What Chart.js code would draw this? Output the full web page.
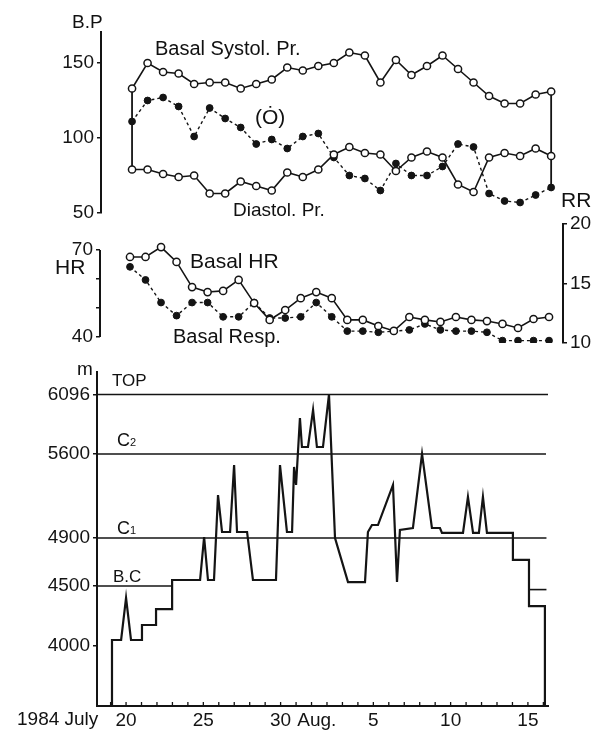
<!DOCTYPE html>
<html><head><meta charset="utf-8">
<script src="https://cdn.jsdelivr.net/npm/chart.js@4.4.1/dist/chart.umd.min.js"></script>
<style>
html,body{margin:0;padding:0;background:#fff;}
#wrap{position:relative;width:595px;height:732px;overflow:hidden;background:#fff;font-family:"Liberation Sans",Arial,sans-serif;color:#111;}
canvas{position:absolute;left:0;}
.t{position:absolute;white-space:nowrap;line-height:1;}
.s{font-size:11px;}
</style></head><body>
<div id="wrap">
<canvas id="c1" width="595" height="235" style="top:0px"></canvas>
<canvas id="c2" width="595" height="170" style="top:195px"></canvas>
<canvas id="c3" width="595" height="377" style="top:355px"></canvas>
<div class="t" style="left:72px;top:12px;font-size:19px">B.P</div>
<div class="t" style="left:155px;top:38px;font-size:20px">Basal Systol. Pr.</div>
<div class="t" style="left:255px;top:106px;font-size:21px">(Ȯ)</div>
<div class="t" style="left:233px;top:200px;font-size:19px">Diastol. Pr.</div>
<div class="t" style="left:55px;top:256px;font-size:21px">HR</div>
<div class="t" style="left:190px;top:250px;font-size:21px">Basal HR</div>
<div class="t" style="left:173px;top:326px;font-size:20px">Basal Resp.</div>
<div class="t" style="left:561px;top:189px;font-size:21px">RR</div>
<div class="t" style="left:77px;top:359px;font-size:19px">m</div>
<div class="t" style="left:112px;top:372px;font-size:17px">TOP</div>
<div class="t" style="left:117px;top:431px;font-size:18px">C<span class="s">2</span></div>
<div class="t" style="left:117px;top:519px;font-size:18px">C<span class="s">1</span></div>
<div class="t" style="left:113px;top:568px;font-size:17px">B.C</div>
<div class="t" style="left:17px;top:709px;font-size:19px">1984 July</div>
</div>
<script>
// ---- data (day numbers counted from July 1; Aug 1 = 32) ----
const days = [20,21,22,23,24,25,26,27,28,29,30,31,32,33,34,35,36,37,38,39,40,41,42,43,44,45,46,47];
const systolic = [133,150,144,143,136,137,137,133,136,139,147,145,148,150,157,155,137,152,142,148,155,146,137,128,123,123,129,131];
const diastolic = [79,79,76,74,75,63,63,71,68,65,77,74,79,89,94,90,89,78,87,91,87,69,64,87,90,88,93,88];
const meanBP = [111,125,127,121,101,120,113,107,96,99,93,101,103,87,75,73,65,83,75,75,81,96,94,63,58,57,62,67];
const heartRate = [67.6,67.6,71,65.9,57.2,55.5,55.9,59.7,51.7,45.9,49.3,53.4,55.5,53.4,45.9,45.9,43.8,42.1,46.9,45.9,45.2,46.9,45.9,45.5,44.5,43.1,46.2,46.9];
const respRate = [16.4,15.3,13.4,12.3,13.4,13.4,12.2,12.2,13.4,12.1,12.1,12.2,13.4,12.2,11.0,11.0,10.9,11.0,11.1,11.6,11.1,11.0,11.0,10.9,10.2,10.2,10.2,10.2];

const altDays = [19.09,19.09,19.68,20.00,20.32,21.03,21.03,21.94,21.94,22.98,22.98,24.79,25.05,25.30,25.69,25.95,26.21,26.73,26.99,27.18,27.83,28.21,29.70,29.96,30.41,30.74,30.87,31.00,31.25,31.38,31.77,32.10,32.35,32.74,33.13,33.52,34.36,35.46,35.65,35.91,36.30,37.27,37.40,37.53,37.72,38.56,39.15,39.79,40.31,40.44,41.80,42.12,42.45,42.83,43.09,43.35,45.03,45.03,46.07,46.07,47.10,47.10];
const altitude = [3500,4050,4050,4400,4050,4050,4175,4175,4308,4308,4550,4550,4908,4550,4550,5258,4950,4950,5508,4950,4950,4550,4550,5508,4950,4950,5492,5342,5900,5658,5658,5967,5658,5658,6096,4900,4533,4533,4950,5008,5008,5342,4942,4533,4967,4983,5600,4983,4983,4942,4942,5242,4942,4942,5242,4942,4942,4717,4717,4333,4333,3500];

const refNames = ['TOP','C2','C1','B.C'];
const refAlt = [6096,5600,4900,4500];
const refEndDay = [47.30,47.17,47.20,22.98];
const campStubDays = [46.07,47.20];
const campStubAlt = [4470,4470];

const bpTicks = [50,100,150];
const hrTicks = [40,50,60,70];
const hrTickLabels = ['40','','','70'];
const rrTicks = [10,15,20];
const altTicks = [4000,4500,4900,5600,6096];
const dateTickDays = [20,25,30,32,36,41,46];
const dateTickLabels = ['20','25','30','  Aug.','5','10','15'];
const dayMarks = [19,20,21,22,23,24,25,26,27,28,29,30,31,32,33,34,35,36,37,38,39,40,41,42,43,44,45,46,47];

// ---- style ----
const INK = '#141414';
const FONT = '"Liberation Sans", Arial, sans-serif';
Chart.defaults.font.family = FONT;
Chart.defaults.color = INK;
Chart.defaults.animation = false;
Chart.defaults.plugins.legend.display = false;
Chart.defaults.plugins.tooltip.enabled = false;

function pts(xs, ys){ return xs.map((x,i)=>({x:x, y:ys[i]})); }
function openSeries(data){ return {data, borderColor:INK, borderWidth:1.6, pointRadius:3.6, pointBackgroundColor:'#fff', pointBorderColor:INK, pointBorderWidth:1.5, tension:0}; }
function dotSeries(data){ return {data, borderColor:INK, borderWidth:1.4, borderDash:[3,3], pointRadius:3.4, pointBackgroundColor:INK, pointBorderColor:INK, pointBorderWidth:1, tension:0}; }
function plainLine(data, w){ return {data, borderColor:INK, borderWidth:w, pointRadius:0, tension:0}; }
function fixTicks(vals){ return s => { s.ticks = vals.map(v=>({value:v})); }; }
function yAxis(min, max, ticks, labels, width, pos, border){
  return { type:'linear', position:pos, min, max,
    afterBuildTicks: fixTicks(ticks),
    afterFit: s => { s.width = width; },
    ticks:{ font:{size:19}, color:INK, padding:3, autoSkip:false,
      callback: (v, i) => labels ? labels[i] : String(v) },
    grid:{ display:true, drawOnChartArea:false, drawTicks:true, tickLength:4, color:INK, lineWidth:1.5 },
    border:{ display:border, color:INK, width:2 } };
}
const hiddenX = (min,max) => ({ type:'linear', min, max, display:false });

function calibrate(chart, pad, target){
  for (let k=0;k<3;k++){
    const a = chart.chartArea;
    pad.left += target.left - a.left;
    pad.top += target.top - a.top;
    pad.right += a.right - target.right;
    pad.bottom += a.bottom - target.bottom;
    chart.update('none');
  }
}

// ---- top: blood pressure ----
const last = days.length - 1;
const pad1 = {left:41, top:32, right:35, bottom:22};
const ch1 = new Chart(document.getElementById('c1'), {
  type:'line',
  data:{ datasets:[
    openSeries(pts(days, systolic)),
    openSeries(pts(days, diastolic)),
    dotSeries(pts(days, meanBP)),
    plainLine([{x:days[0], y:systolic[0]},{x:days[0], y:diastolic[0]}], 1.8),
    plainLine([{x:days[last], y:systolic[last]},{x:days[last], y:meanBP[last]}], 1.8)
  ]},
  options:{ responsive:false, layout:{padding:pad1},
    scales:{ x: hiddenX(18.0, 47.57), y: yAxis(50, 170.67, bpTicks, null, 60, 'left', true) } }
});
calibrate(ch1, pad1, {left:101, right:560, top:32, bottom:213});

// ---- middle: HR and respiration ----
const hrAxisLine = { id:'hrAxisLine', afterDraw(chart){
  const s = chart.scales.y, ctx = chart.ctx, x = chart.chartArea.left;
  ctx.save(); ctx.strokeStyle = INK; ctx.lineWidth = 2;
  ctx.beginPath(); ctx.moveTo(x, s.getPixelForValue(hrTicks[hrTicks.length-1]));
  ctx.lineTo(x, s.getPixelForValue(hrTicks[0])); ctx.stroke(); ctx.restore(); } };
const pad2 = {left:40, top:29, right:2, bottom:22};
const ch2 = new Chart(document.getElementById('c2'), {
  type:'line',
  data:{ datasets:[
    Object.assign(openSeries(pts(days, heartRate)), {yAxisID:'y'}),
    Object.assign(dotSeries(pts(days, respRate)), {yAxisID:'y1'})
  ]},
  options:{ responsive:false, layout:{padding:pad2},
    scales:{ x: hiddenX(18.067, 47.9),
      y: yAxis(37.93, 78.97, hrTicks, hrTickLabels, 60, 'left', false),
      y1: yAxis(10, 20, rrTicks, null, 30, 'right', true) } },
  plugins:[hrAxisLine]
});
calibrate(ch2, pad2, {left:100, right:563, top:29, bottom:148});

// ---- bottom: altitude ----
const dayTickMarks = { id:'dayTickMarks', afterDraw(chart){
  const s = chart.scales.x, ctx = chart.ctx, b = chart.chartArea.bottom;
  ctx.save(); ctx.strokeStyle = INK; ctx.lineWidth = 1.3; ctx.beginPath();
  dayMarks.forEach(d => { const px = s.getPixelForValue(d); ctx.moveTo(px, b); ctx.lineTo(px, b-4); });
  ctx.stroke(); ctx.restore(); } };
const xMin3 = 18.12;
const refSets = refNames.map((n,i) => plainLine([{x:xMin3, y:refAlt[i]},{x:refEndDay[i], y:refAlt[i]}], 1.6));
const pad3 = {left:37, top:17, right:47, bottom:0};
const ch3 = new Chart(document.getElementById('c3'), {
  type:'line',
  data:{ datasets:[
    plainLine(pts(altDays, altitude), 2.2),
    ...refSets,
    plainLine(pts(campStubDays, campStubAlt), 1.6)
  ]},
  options:{ responsive:false, layout:{padding:pad3},
    scales:{
      x:{ type:'linear', min:xMin3, max:47.30,
        afterBuildTicks: fixTicks(dateTickDays),
        afterFit: s => { s.height = 26; },
        ticks:{ font:{size:19}, color:INK, padding:-5, autoSkip:false, maxRotation:0,
          callback:(v,i) => dateTickLabels[i] },
        grid:{ display:false }, border:{ display:true, color:INK, width:2 } },
      y: yAxis(3500, 6283, altTicks, null, 60, 'left', true) } },
  plugins:[dayTickMarks]
});
calibrate(ch3, pad3, {left:97, right:548, top:17, bottom:351});
</script>
</body></html>
